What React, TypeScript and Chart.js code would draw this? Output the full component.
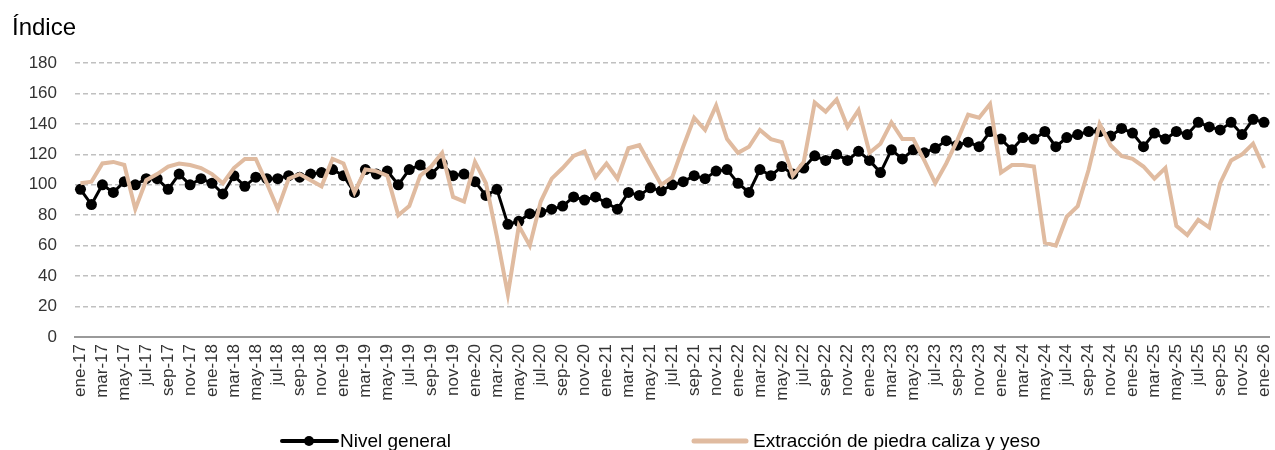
import { useEffect, useRef } from 'react';
import { Chart, registerables } from 'chart.js';

Chart.register(...registerables);

const TITLE = 'Índice';
const MONTHS = ['ene', 'feb', 'mar', 'abr', 'may', 'jun', 'jul', 'ago', 'sep', 'oct', 'nov', 'dic'];
const YEARS = ['17', '18', '19', '20', '21', '22', '23', '24', '25', '26'];
const Y_TICKS = [0, 20, 40, 60, 80, 100, 120, 140, 160, 180];

const categories: string[] = [];
YEARS.forEach((y, yi) => {
  MONTHS.forEach((m, mi) => {
    if (yi === YEARS.length - 1 && mi > 0) return;
    categories.push(`${m}-${y}`);
  });
});

const SERIES_NAMES = ['Nivel general', 'Extracción de piedra caliza y yeso'];

const nivelGeneral = [
  97, 87, 100, 95, 102, 100, 104, 104, 97, 107, 100, 104,
  101, 94, 106, 99, 105, 104, 104, 106, 105, 107, 108, 110,
  106, 95, 110, 107, 109, 100, 110, 113, 107, 114, 106, 107,
  102, 93, 97, 74, 76, 81, 82, 84, 86, 92, 90, 92,
  88, 84, 95, 93, 98, 96, 100, 102, 106, 104, 109, 110,
  101, 95, 110, 106, 112, 107, 111, 119, 116, 120, 116, 122,
  116, 108, 123, 117, 123, 121, 124, 129, 126, 128, 125, 135,
  130, 123, 131, 130, 135, 125, 131, 133, 135, 135, 132, 137,
  134, 125, 134, 130, 135, 133, 141, 138, 136, 141, 133, 143,
  141,
];

const extraccion = [
  101, 102, 114, 115, 113, 84, 103, 107, 112, 114, 113, 111,
  107, 101, 111, 117, 117, 101, 84, 104, 107, 103, 99, 117,
  114, 95, 110, 109, 106, 80, 86, 106, 112, 121, 92, 89,
  115, 101, 66, 28, 73, 60, 89, 104, 111, 119, 122, 105,
  114, 104, 124, 126, 113, 100, 105, 125, 144, 136, 152, 130,
  121, 125, 136, 130, 128, 106, 115, 154, 148, 156, 138, 149,
  121, 127, 141, 130, 130, 116, 101, 114, 129, 146, 144, 153,
  108, 113, 113, 112, 62, 60, 79, 86, 110, 140, 126, 119,
  117, 112, 104, 111, 73, 67, 77, 72, 101, 116, 120, 127,
  111,
];

const BLACK = '#000000';
const ORANGE = 'rgb(224,187,160)';
const FONT = '"Liberation Sans", Arial, Helvetica, sans-serif';

const overlayPlugin = {
  id: 'overlay',
  afterDraw(chart: any) {
    const ctx = chart.ctx as CanvasRenderingContext2D;
    ctx.save();
    ctx.fillStyle = '#000';
    ctx.font = `24px ${FONT}`;
    ctx.textBaseline = 'alphabetic';
    ctx.textAlign = 'left';
    ctx.fillText(TITLE, 12, 35);

    const ly = 441;
    ctx.strokeStyle = BLACK;
    ctx.lineWidth = 4;
    ctx.lineCap = 'round';
    ctx.beginPath();
    ctx.moveTo(282, ly);
    ctx.lineTo(337, ly);
    ctx.stroke();
    ctx.fillStyle = BLACK;
    ctx.beginPath();
    ctx.arc(309, ly, 5, 0, Math.PI * 2);
    ctx.fill();
    ctx.font = `19px ${FONT}`;
    ctx.fillText(chart.data.datasets[0].label, 340, 447);

    ctx.strokeStyle = ORANGE;
    ctx.lineWidth = 5;
    ctx.beginPath();
    ctx.moveTo(694, ly);
    ctx.lineTo(746, ly);
    ctx.stroke();
    ctx.fillStyle = '#000';
    ctx.fillText(chart.data.datasets[1].label, 753, 447);
    ctx.restore();
  },
};

export default function App() {
  const ref = useRef<HTMLCanvasElement | null>(null);

  useEffect(() => {
    if (!ref.current) return;
    const chart = new Chart(ref.current, {
      type: 'line',
      data: {
        labels: categories,
        datasets: [
          {
            label: SERIES_NAMES[0],
            data: nivelGeneral,
            borderColor: BLACK,
            backgroundColor: BLACK,
            borderWidth: 3,
            pointRadius: 5.5,
            pointBorderWidth: 0,
            pointBackgroundColor: BLACK,
            tension: 0,
            order: 2,
          },
          {
            label: SERIES_NAMES[1],
            data: extraccion,
            borderColor: ORANGE,
            backgroundColor: ORANGE,
            borderWidth: 4,
            pointRadius: 0,
            tension: 0,
            order: 1,
          },
        ],
      },
      options: {
        animation: false,
        responsive: false,
        maintainAspectRatio: false,
        layout: { padding: { top: 63, left: 0, right: 0, bottom: 0 } },
        plugins: {
          legend: { display: false },
          title: { display: false },
          tooltip: { enabled: false },
        },
        scales: {
          x: {
            type: 'category',
            offset: true,
            grid: { display: false, drawTicks: false },
            border: { display: true, color: '#9a9a9a', width: 2 },
            ticks: {
              autoSkip: false,
              minRotation: 90,
              maxRotation: 90,
              padding: 7,
              color: '#333',
              font: { family: FONT, size: 17 },
              callback: (_v: any, i: number) => (i % 2 === 0 ? categories[i] : ''),
            },
            afterFit: (s: any) => {
              s.height = 113;
              s.paddingLeft = 0;
              s.paddingRight = 0;
            },
          },
          y: {
            min: 0,
            max: 180,
            afterBuildTicks: (s: any) => {
              s.ticks = Y_TICKS.map((v) => ({ value: v }));
            },
            grid: {
              drawTicks: false,
              lineWidth: 1.5,
              color: (c: any) => (c.tick && c.tick.value === 0 ? 'rgba(0,0,0,0)' : '#c0c0c0'),
            },
            border: { display: false, dash: [5, 3] },
            ticks: {
              padding: 18,
              color: '#333',
              font: { family: FONT, size: 17 },
            },
            afterFit: (s: any) => {
              s.width = 75;
            },
          },
        },
      },
      plugins: [overlayPlugin],
    });
    return () => chart.destroy();
  }, []);

  return (
    <div style={{ position: 'fixed', left: 0, top: 0, width: 1275, height: 450, background: '#fff' }}>
      <canvas ref={ref} width={1275} height={450} style={{ width: 1275, height: 450, display: 'block' }} />
    </div>
  );
}
